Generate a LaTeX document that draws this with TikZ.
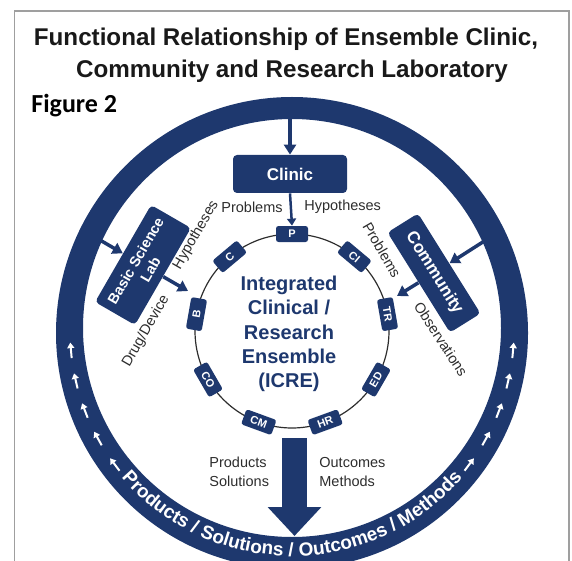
\documentclass[tikz,border=0pt]{standalone}
\usepackage{fontspec}
\setmainfont{Liberation Sans}
\newfontfamily\figfont{Carlito}
\usetikzlibrary{arrows.meta,calc,decorations.text}

\definecolor{icreblue}{RGB}{30,56,110}
\definecolor{labelgray}{RGB}{45,45,45}

\tikzset{every picture/.style={line width=0.75pt}}

\begin{document}
\begin{tikzpicture}[x=1pt,y=1pt,yscale=-1,xscale=1,
  darkbox/.style={fill=icreblue,rounded corners=4pt,text=white,align=center,inner sep=2pt},
  member/.style={fill=icreblue,rounded corners=2.5pt,text=white,font=\bfseries\fontsize{11}{11}\selectfont,minimum width=32pt,minimum height=16pt,inner sep=0pt},
  feed/.style={draw=icreblue,line width=3.5pt,-{Triangle[length=10pt,width=12pt]}},
  thinfeed/.style={draw=icreblue,line width=2.5pt,-{Triangle[length=7pt,width=9pt]}},
  flow/.style={draw=white,line width=2pt,-{Triangle[length=5.5pt,width=7pt]}},
  small label/.style={text=labelgray,font=\fontsize{14.5}{19}\selectfont,inner sep=0pt}]
\useasboundingbox (0,0) rectangle (572,561);

%Frame
\draw [color=gray!75,line width=1.5pt] (14.5,561) -- (14.5,11) -- (569,11) -- (569,561) ;

% Text Node
\node [anchor=base,font=\bfseries\fontsize{24.2}{24.2}\selectfont,text=black!90,inner sep=0pt] (title1) at (286,46) {Functional Relationship of Ensemble Clinic,};
% Text Node
\node [anchor=base,font=\bfseries\fontsize{24.2}{24.2}\selectfont,text=black!90,inner sep=0pt] (title2) at (292,78) {Community and Research Laboratory};
% Text Node
\node [anchor=base west,font=\figfont\bfseries\fontsize{26}{26}\selectfont,inner sep=0pt] (figlabel) at (31,113) {Figure 2};

%Shape: Ring
\fill [icreblue,even odd rule] (292,333) circle [radius=236] (292,328) circle [radius=209] ;
\coordinate (c) at (292,331) ;

%Ring text
\path [decorate,decoration={text along path,text align=center,
  text={|\bfseries\fontsize{19}{19}\selectfont\color{white}|Products / Solutions / Outcomes / Methods}}]
  ($(c)+(150:225)$) arc [start angle=150,end angle=30,radius=225] ;

%Ring flow arrows
\foreach \a in {175,167,159,151,143}
  \draw [flow] ($(c)+(\a-2:222)$) -- ($(c)+(\a+2:222)$) ;
\foreach \a in {5,13,21,29,37}
  \draw [flow] ($(c)+(\a+2:222)$) -- ($(c)+(\a-2:222)$) ;

%Shape: Circle
\draw [color=labelgray,line width=1.2pt] (c) circle [radius=97] ;

%Ensemble members
\foreach \lbl/\ang/\rot in {P/-90/0,CI/-50/-40,TR/-10/-80,ED/30/60,HR/70/20,CM/110/-20,CO/150/-60,B/-170/80,C/-130/40}
  \node [member,rotate=\rot] (m\lbl) at ($(c)+(\ang:97)$) {\lbl};

% Text Node
\node [text=icreblue,font=\bfseries\fontsize{20}{24.3}\selectfont,align=center] (icre) at (289,334) {Integrated\\Clinical /\\Research\\Ensemble\\(ICRE)};

%Shape: Rectangle
\node [darkbox,minimum width=114pt,minimum height=38pt,font=\bfseries\fontsize{17}{17}\selectfont] (clinic) at (290,174) {Clinic};
%Shape: Rectangle
\node [darkbox,rotate=60,minimum width=112pt,minimum height=46pt,font=\bfseries\fontsize{14.5}{17}\selectfont] (bsl) at (143,265) {Basic Science\\Lab};
%Shape: Rectangle
\node [darkbox,rotate=-58,minimum width=118pt,minimum height=36pt,font=\bfseries\fontsize{17}{17}\selectfont] (comm) at (434,273) {Community};

\coordinate (ringclinic) at (290,116) ;
\coordinate (ringbsl) at (93,236) ;
\coordinate (ringcomm) at (486,240) ;
\coordinate (bslout) at (188,291) ;
\coordinate (commout) at (397,296) ;
\coordinate (outtop) at (294.5,438) ;
\coordinate (outtip) at (294.5,536) ;

%Straight Lines
\draw [feed] (ringclinic) -- (clinic.north) ;
\draw [thinfeed] (clinic.south) -- (mP.north) ;
\draw [feed] (ringbsl) -- (bsl.north) ;
\draw [feed] (bsl.south) -- (bslout) ;
\draw [feed] (ringcomm) -- (comm.north) ;
\draw [feed] (comm.south) -- (commout) ;
%Down Arrow
\draw [icreblue,line width=25pt,-{Triangle[length=29pt,width=52pt]}] (outtop) -- (outtip) ;

% Text Node
\node [small label,anchor=east] (probclinic) at (283,207) {Problems};
% Text Node
\node [small label,anchor=west] (hypclinic) at (304,207) {Hypotheses};
% Text Node
\node [small label,rotate=60] (hypbsl) at (196,235) {Hypotheses};
% Text Node
\node [small label,rotate=60] (drug) at (146,331) {Drug/Device};
% Text Node
\node [small label,rotate=-60] (probcomm) at (382,250) {Problems};
% Text Node
\node [small label,rotate=-57] (obs) at (441,339) {Observations};
% Text Node
\node [small label,align=left,anchor=west] (prodsol) at (209,472) {Products\\Solutions};
% Text Node
\node [small label,align=left,anchor=west] (outmeth) at (319,472) {Outcomes\\Methods};

\end{tikzpicture}
\end{document}
